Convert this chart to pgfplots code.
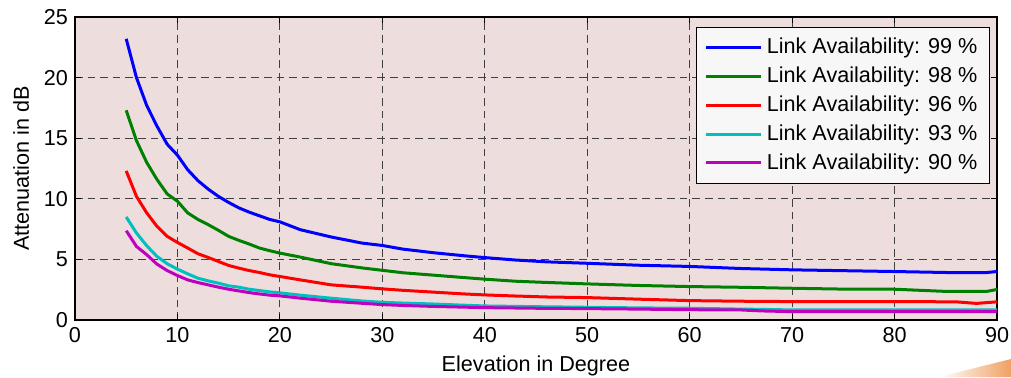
\documentclass[border=0pt]{standalone}
\usepackage{fontspec}
\setmainfont{Liberation Sans}
\usepackage{pgfplots}
\pgfplotsset{compat=1.18}
\definecolor{bgpink}{RGB}{238,221,221}
\definecolor{mgreen}{RGB}{0,128,0}
\definecolor{mcyan}{RGB}{0,191,191}
\definecolor{mmag}{RGB}{191,0,191}
\definecolor{orng}{RGB}{240,160,100}
\newcommand{\fsz}{\fontsize{10.8}{13}\selectfont}
\begin{document}
\begin{tikzpicture}
\useasboundingbox (-37.5pt,160pt) rectangle (468pt,-28.5pt);
\shade[left color=white, right color=orng] (432pt,-28.5pt) -- (468pt,-19.5pt) -- (468pt,-28.5pt) -- cycle;
\begin{axis}[
  at={(0,0)}, anchor=south west,
  scale only axis, width=461pt, height=151.5pt,
  xmin=0, xmax=90, ymin=0, ymax=25,
  xtick={0,10,...,90}, ytick={0,5,...,25},
  axis background/.style={fill=bgpink},
  grid=major,
  major grid style={black!75, dash pattern=on 3.8pt off 2.5pt, line width=0.5pt},
  tick align=inside, tick pos=both, major tick length=3pt,
  tick style={black, line width=0.5pt},
  axis line style={black, line width=0.6pt},
  /pgf/number format/assume math mode=true,
  tick label style={font=\fsz},
  label style={font=\fsz},
  xlabel={Elevation in Degree}, ylabel={Attenuation in dB},
  xlabel style={at={(axis description cs:0.5,-0.152)}, anchor=center},
  ylabel style={at={(axis description cs:-0.0585,0.5)}, anchor=center, rotate=0},
  legend cell align=left,
  legend style={at={(axis description cs:0.9924,0.9686)}, anchor=north east,
    fill=white!97!black, draw=black, line width=0.6pt, font=\fsz,
    row sep=1.1pt, inner xsep=4pt, inner ysep=3.5pt},
  legend image code/.code={\draw[#1] (0pt,0pt) -- (27.5pt,0pt);},
  every axis plot/.append style={line width=1.5pt},
]
\addplot[blue] coordinates {(5,23.2)(6,20.0)(7,17.7)(8,16.0)(9,14.5)(10,13.6)(11,12.4)(12,11.5)(13,10.8)(14,10.2)(15,9.7)(16,9.25)(17,8.9)(18,8.6)(19,8.3)(20,8.1)(22,7.45)(25,6.85)(28,6.35)(30,6.15)(32,5.85)(35,5.55)(38,5.3)(40,5.15)(43,4.95)(46,4.8)(50,4.68)(55,4.52)(60,4.42)(65,4.25)(70,4.14)(75,4.07)(80,4.0)(85,3.92)(89,3.92)(90,4.0)};
\addlegendentry{Link Availability: 99 \%}
\addplot[mgreen] coordinates {(5,17.3)(6,14.8)(7,13.0)(8,11.6)(9,10.4)(10,9.8)(11,8.84)(12,8.3)(13,7.87)(14,7.4)(15,6.9)(16,6.57)(17,6.27)(18,5.94)(19,5.72)(20,5.52)(22,5.19)(25,4.65)(28,4.3)(30,4.1)(32,3.9)(35,3.7)(38,3.5)(40,3.37)(43,3.2)(46,3.1)(50,2.98)(55,2.85)(60,2.76)(65,2.7)(70,2.62)(75,2.55)(80,2.54)(85,2.36)(89,2.36)(90,2.52)};
\addlegendentry{Link Availability: 98 \%}
\addplot[red] coordinates {(5,12.3)(6,10.2)(7,8.84)(8,7.73)(9,6.9)(10,6.4)(11,5.94)(12,5.47)(13,5.16)(14,4.83)(15,4.5)(16,4.28)(17,4.08)(18,3.92)(19,3.73)(20,3.59)(22,3.31)(25,2.9)(28,2.71)(30,2.57)(32,2.45)(35,2.3)(38,2.15)(40,2.07)(43,1.98)(46,1.9)(50,1.85)(55,1.72)(60,1.6)(65,1.55)(70,1.52)(80,1.52)(86,1.5)(88,1.37)(90,1.5)};
\addlegendentry{Link Availability: 96 \%}
\addplot[mcyan] coordinates {(5,8.5)(6,7.18)(7,6.13)(8,5.25)(9,4.64)(10,4.2)(11,3.81)(12,3.45)(13,3.23)(14,3.04)(15,2.82)(16,2.71)(17,2.54)(18,2.43)(19,2.32)(20,2.24)(22,2.05)(25,1.8)(28,1.57)(30,1.46)(32,1.4)(35,1.32)(38,1.22)(40,1.16)(45,1.1)(50,1.05)(55,1.0)(60,0.97)(65,0.9)(67,0.88)(70,0.83)(90,0.83)};
\addlegendentry{Link Availability: 93 \%}
\addplot[mmag] coordinates {(5,7.37)(6,6.07)(7,5.39)(8,4.61)(9,4.08)(10,3.67)(11,3.31)(12,3.09)(13,2.9)(14,2.71)(15,2.54)(16,2.4)(17,2.26)(18,2.15)(19,2.05)(20,1.99)(22,1.8)(25,1.55)(28,1.38)(30,1.27)(32,1.2)(35,1.12)(38,1.06)(40,1.02)(45,0.97)(50,0.94)(55,0.9)(60,0.85)(65,0.83)(67,0.75)(70,0.69)(90,0.69)};
\addlegendentry{Link Availability: 90 \%}
\end{axis}
\end{tikzpicture}
\end{document}
